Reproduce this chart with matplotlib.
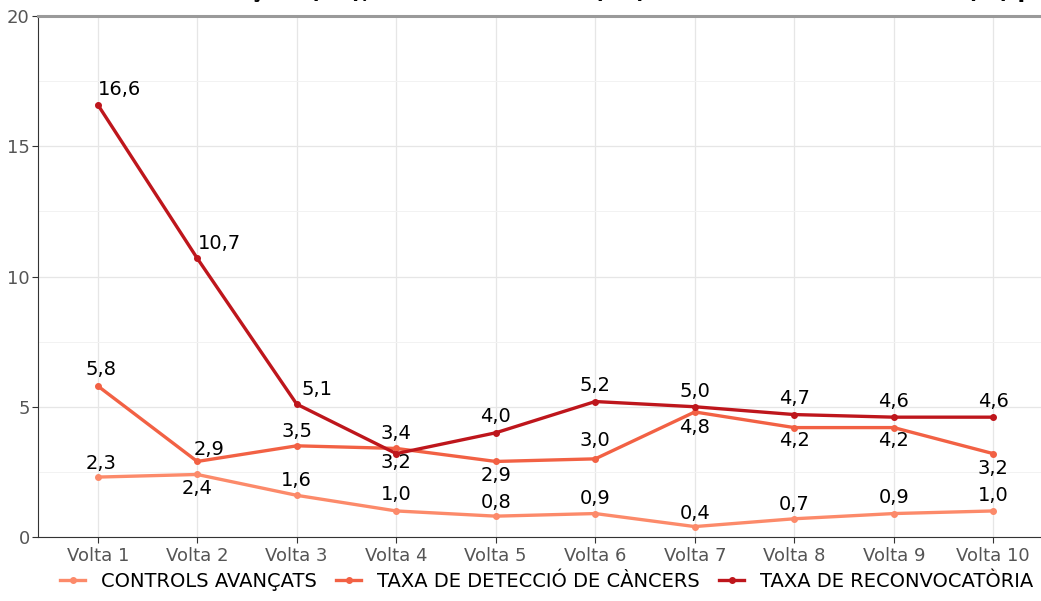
import numpy as np
import matplotlib
matplotlib.use("Agg")
import matplotlib.pyplot as plt

# data
voltes = ["Volta 1", "Volta 2", "Volta 3", "Volta 4", "Volta 5",
          "Volta 6", "Volta 7", "Volta 8", "Volta 9", "Volta 10"]
controls = [2.3, 2.4, 1.6, 1.0, 0.8, 0.9, 0.4, 0.7, 0.9, 1.0]
deteccio = [5.8, 2.9, 3.5, 3.4, 2.9, 3.0, 4.8, 4.2, 4.2, 3.2]
reconv = [16.6, 10.7, 5.1, 3.2, 4.0, 5.2, 5.0, 4.7, 4.6, 4.6]
series_names = ["CONTROLS AVANÇATS", "TAXA DE DETECCIÓ DE CÀNCERS", "TAXA DE RECONVOCATÒRIA"]
title = "Taxa de controls avançats (‰), taxa de detecció (‰) i taxa de reconvocatòria (%) per volta"

# label offsets (pixels) so the values don't sit on the lines
off_controls = [(3, 14), (0, -14), (0, 15), (0, 16), (0, 14), (0, 15), (0, 13), (0, 14), (0, 16), (0, 15)]
off_deteccio = [(3, 16), (12, 12), (0, 14), (0, 15), (0, -14), (0, 18), (0, -16), (0, -13), (0, -13), (0, -15)]
off_reconv = [(22, 15), (22, 15), (20, 15), (0, -9), (0, 16), (0, 16), (0, 15), (0, 16), (0, 16), (0, 16)]

colors = ["#FC8A6A", "#F26144", "#BE161C"]

fig = plt.figure(figsize=(10.41, 6.01), dpi=100)
ax = fig.add_axes([38 / 1041, 64 / 601, 1015 / 1041, 521 / 601])

x = np.arange(1, len(voltes) + 1)
all_series = [controls, deteccio, reconv]
all_offsets = [off_controls, off_deteccio, off_reconv]

for vals, name, col, offs in zip(all_series, series_names, colors, all_offsets):
    ax.plot(x, vals, color=col, lw=2.4, marker="o", ms=4, label=name, zorder=3)
    for xi, v, (dx, dy) in zip(x, vals, offs):
        ax.annotate(f"{v:.1f}".replace(".", ","), (xi, v), xytext=(dx, dy),
                    textcoords="offset pixels", ha="center", va="center",
                    fontsize=14, color="black", zorder=4)

ax.set_xlim(0.4, 10.6)
ax.set_ylim(0, 20)
ax.set_xticks(x)
ax.set_xticklabels(voltes)
ax.set_yticks([0, 5, 10, 15, 20])
ax.set_yticks([2.5, 7.5, 12.5, 17.5], minor=True)
ax.tick_params(axis="both", colors="#333333", labelcolor="#555555", labelsize=13, length=4)
ax.tick_params(axis="y", which="minor", length=0)
ax.tick_params(axis="y", pad=2)
ax.grid(True, which="major", color="#e6e6e6", lw=0.9)
ax.grid(True, which="minor", axis="y", color="#f2f2f2", lw=0.7)
ax.set_axisbelow(True)

ax.spines["right"].set_visible(False)
ax.spines["top"].set_color("#9a9a9a")
ax.spines["top"].set_linewidth(2.2)
ax.spines["left"].set_color("#333333")
ax.spines["bottom"].set_color("#333333")

fig.legend(loc="lower center", bbox_to_anchor=(0.525, -0.012), ncol=3, frameon=False,
           handlelength=1.3, handletextpad=0.8, columnspacing=1.0,
           prop={"family": ["Liberation Sans Narrow", "DejaVu Sans"], "size": 14})

# title is cut off in the reference; only its lowest part shows
fig.text(0.531, 1.0 + 1.5 / 601, title, ha="center", va="baseline",
         fontsize=16, fontweight="bold")

fig.savefig("out.png", dpi=100)
